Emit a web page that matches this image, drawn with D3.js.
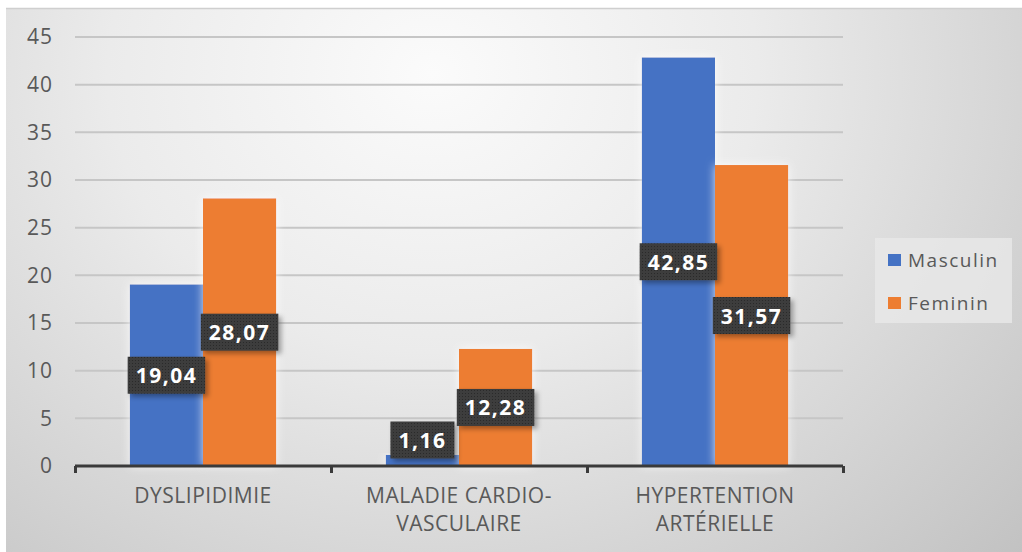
<!DOCTYPE html>
<html>
<head>
<meta charset="utf-8">
<script src="https://cdn.jsdelivr.net/npm/d3@7"></script>
<style>
  html, body { margin: 0; padding: 0; background: #ffffff; }
  svg { display: block; }
</style>
</head>
<body>
<svg id="chart" width="1022" height="552"></svg>
<script>
// Prevalence by sex for three conditions
const categories = [["DYSLIPIDIMIE"], ["MALADIE CARDIO-", "VASCULAIRE"], ["HYPERTENTION", "ARTÉRIELLE"]];
const seriesNames = ["Masculin", "Feminin"];
const masculin = [19.04, 1.16, 42.85];
const feminin = [28.07, 12.28, 31.57];
const yTicks = [0, 5, 10, 15, 20, 25, 30, 35, 40, 45];
const colors = ["#4472C4", "#ED7D31"];

const svg = d3.select("#chart");
const W = 1022, H = 552;
const font = "'Open Sans', Lato, sans-serif";

// Background panel with soft radial shading
const defs = svg.append("defs");
const bg = defs.append("radialGradient").attr("id", "bg")
  .attr("cx", "0.42").attr("cy", "0.12").attr("r", "0.8")
  .attr("gradientTransform", "translate(0.42,0.12) scale(1,1.6) translate(-0.42,-0.12)");
bg.append("stop").attr("offset", "0").attr("stop-color", "#fbfbfb");
bg.append("stop").attr("offset", "0.4").attr("stop-color", "#ebebeb");
bg.append("stop").attr("offset", "1").attr("stop-color", "#c2c2c2");

const dots = defs.append("pattern").attr("id", "dots")
  .attr("width", 3).attr("height", 3).attr("patternUnits", "userSpaceOnUse");
dots.append("rect").attr("width", 3).attr("height", 3).attr("fill", "#3d3d3d");
dots.append("rect").attr("width", 1).attr("height", 1).attr("fill", "#2c2c2c");

const shadow = defs.append("filter").attr("id", "shadow")
  .attr("x", "-20%").attr("y", "-20%").attr("width", "150%").attr("height", "160%");
shadow.append("feDropShadow").attr("dx", 3).attr("dy", 3).attr("stdDeviation", 2.5)
  .attr("flood-color", "#000").attr("flood-opacity", 0.35);

const glow = defs.append("filter").attr("id", "glow")
  .attr("x", "-20%").attr("y", "-10%").attr("width", "140%").attr("height", "120%");
glow.append("feDropShadow").attr("dx", 0).attr("dy", 0).attr("stdDeviation", 5)
  .attr("flood-color", "#ffffff").attr("flood-opacity", 0.8);

svg.append("rect").attr("x", 6).attr("y", 8).attr("width", W - 6).attr("height", H - 8)
  .attr("fill", "url(#bg)");
svg.append("line").attr("x1", 6).attr("x2", W).attr("y1", 8.5).attr("y2", 8.5)
  .attr("stroke", "#cfcfcf").attr("stroke-width", 1.5);

// Scales
const x0 = d3.scaleBand().domain(d3.range(categories.length)).range([75, 843]);
const x1 = d3.scaleBand().domain(seriesNames).range([0, x0.bandwidth()]).paddingOuter(0.75);
const y = d3.scaleLinear().domain([0, 45]).range([466, 37]);

// Gridlines
svg.append("g").selectAll("line").data(yTicks.filter(d => d > 0)).join("line")
  .attr("x1", 75).attr("x2", 843)
  .attr("y1", d => y(d)).attr("y2", d => y(d))
  .attr("stroke", "#c6c6c6").attr("stroke-width", 2);

// Y axis labels
const yAxis = d3.axisLeft(y).tickValues(yTicks).tickSize(0).tickPadding(0).tickFormat(d3.format("d"));
const gy = svg.append("g").attr("transform", "translate(53,0)").call(yAxis);
gy.select(".domain").remove();
gy.selectAll("text").attr("font-family", font).attr("font-size", 21)
  .attr("letter-spacing", 1).attr("fill", "#595959");

// Bars
const rows = categories.map((c, i) => ({ i, values: [masculin[i], feminin[i]] }));
const groups = svg.append("g").selectAll("g").data(rows).join("g")
  .attr("transform", d => `translate(${x0(d.i)},0)`);
groups.selectAll("rect").data(d => d.values.map((v, k) => ({ v, k }))).join("rect")
  .attr("x", d => x1(seriesNames[d.k]))
  .attr("width", x1.bandwidth())
  .attr("y", d => y(d.v))
  .attr("height", d => y(0) - y(d.v))
  .attr("fill", d => colors[d.k])
  .attr("filter", "url(#glow)");

// X axis line with category ticks
const xAxis = d3.axisBottom(d3.scaleLinear().domain([0, 3]).range([75, 843]))
  .tickValues([0, 1, 2, 3]).tickSize(7).tickFormat("");
const gx = svg.append("g").attr("transform", `translate(0,${y(0)})`).call(xAxis);
gx.select(".domain").attr("stroke", "#3a3a3a").attr("stroke-width", 3).attr("d", "M75,0H843");
gx.selectAll(".tick line").attr("stroke", "#3a3a3a").attr("stroke-width", 3);

// Category labels
svg.append("g").selectAll("text").data(categories).join("text")
  .attr("font-family", font).attr("font-size", 21).attr("letter-spacing", 0.5)
  .attr("fill", "#595959")
  .attr("text-anchor", "middle")
  .each(function (lines, i) {
    const t = d3.select(this);
    lines.forEach((ln, j) => {
      t.append("tspan").attr("x", x0(i) + x0.bandwidth() / 2).attr("y", 503 + j * 28).text(ln);
    });
  });

// Value labels centred in each bar
const fmt = v => v.toFixed(2).replace(".", ",");
const labels = svg.append("g");
rows.forEach(r => {
  r.values.forEach((v, k) => {
    const cx = x0(r.i) + x1(seriesNames[k]) + x1.bandwidth() / 2;
    const cy = Math.min((y(v) + y(0)) / 2, y(0) - 26);
    const g = labels.append("g");
    const txt = g.append("text").attr("x", cx).attr("y", cy)
      .attr("text-anchor", "middle").attr("dominant-baseline", "central")
      .attr("font-family", font).attr("font-weight", 700).attr("font-size", 21)
      .attr("letter-spacing", 1.5)
      .attr("fill", "#ffffff").text(fmt(v));
    const w = txt.node().getComputedTextLength() + 16;
    g.insert("rect", "text").attr("x", cx - w / 2).attr("y", cy - 18.5)
      .attr("width", w).attr("height", 37).attr("fill", "url(#dots)")
      .attr("filter", "url(#shadow)");
  });
});

// Legend
const lg = svg.append("g");
lg.append("rect").attr("x", 875).attr("y", 238).attr("width", 137).attr("height", 85)
  .attr("fill", "#e9e9e9").attr("opacity", 0.8);
seriesNames.forEach((s, k) => {
  lg.append("rect").attr("x", 888).attr("y", 254 + k * 43).attr("width", 13).attr("height", 12)
    .attr("fill", colors[k]);
  lg.append("text").attr("x", 908).attr("y", 267 + k * 43)
    .attr("font-family", font).attr("font-size", 19).attr("letter-spacing", 1.5)
    .attr("fill", "#595959").text(s);
});
</script>
</body>
</html>
